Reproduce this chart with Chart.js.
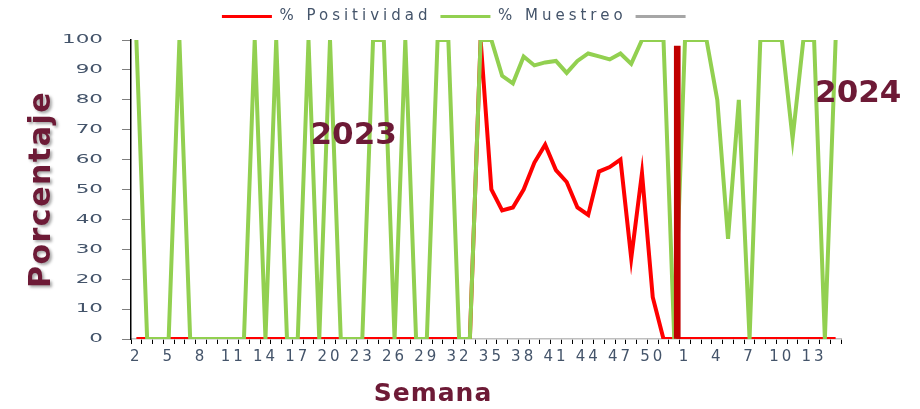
<!DOCTYPE html>
<html>
<head>
<meta charset="utf-8">
<script src="https://cdn.jsdelivr.net/npm/chart.js@4.4.1/dist/chart.umd.min.js"></script>
<style>
html, body { margin: 0; padding: 0; background: #fff; }
#wrap { width: 920px; height: 409px; }
</style>
</head>
<body>
<div id="wrap"><canvas id="semanaChart"></canvas></div>
<script>
// Semanas: 2023 (2-52) y 2024 (1-15)
const weeks = [
    '2', '3', '4', '5', '6', '7', '8', '9', '10', '11', '12', '13', '14', '15', '16', '17', '18',
    '19', '20', '21', '22', '23', '24', '25', '26', '27', '28', '29', '30', '31', '32', '33', '34',
    '35', '36', '37', '38', '39', '40', '41', '42', '43', '44', '45', '46', '47', '48', '49', '50',
    '51', '52',
    '1', '2', '3', '4', '5', '6', '7', '8', '9', '10', '11', '12', '13', '14', '15'
];

const positividad = [
    0, 0, 0, 0, 0, 0, 0, 0, 0, 0, 0, 0, 0, 0, 0, 0,
    0, 0, 0, 0, 0, 0, 0, 0, 0, 0, 0, 0, 0, 0, 0, 0,
    100, 50, 43, 44, 50, 59, 65, 56.5, 52.5, 44, 41.5, 56, 57.5, 60, 27, 55.5, 14, 0, 0,
    0, 0, 0, 0, 0, 0, 0, 0, 0, 0, 0, 0, 0, 0, 0
];

const muestreo = [
    100, 0, 0, 0, 100, 0, 0, 0, 0, 0, 0, 100, 0, 100, 0, 0,
    100, 0, 100, 0, 0, 0, 100, 100, 0, 100, 0, 0, 100, 100, 0, 0,
    100, 100, 88, 85.5, 94.5, 91.5, 92.5, 93, 89, 93, 95.5, 94.5, 93.5, 95.5, 92, 100, 100, 100, 0,
    100, 100, 100, 80, 33.5, 80, 0, 100, 100, 100, 67, 100, 100, 0, 100
];

// Barra que separa 2023 de 2024 (semana 52)
const separador = weeks.map((w, i) => (i === 50 ? 98 : null));
const separadorHueco = weeks.map(() => null);

const yTicks = [0, 10, 20, 30, 40, 50, 60, 70, 80, 90, 100];

const yearLabels = [
    { text: '2023', index: 20.2, value: 68 },
    { text: '2024', index: 67.1, value: 82 }
];

const FONT = "'DejaVu Sans', sans-serif";
const TITLE_COLOR = '#6D1A36';

// Envuelve un método de dibujo para cambiar el estilo del texto
function wrapDraw(obj, name, setup) {
    const original = obj[name];
    obj[name] = function (...args) {
        this.ctx.save();
        setup.call(this, this.ctx);
        const result = original.apply(this, args);
        this.ctx.restore();
        return result;
    };
}

// Textos de año y título del eje X
const textPlugin = {
    id: 'textPlugin',
    afterDatasetsDraw(chart) {
        const { ctx, scales } = chart;
        ctx.save();
        ctx.fillStyle = TITLE_COLOR;
        ctx.font = "bold 31px " + FONT;
        ctx.textAlign = 'center';
        ctx.textBaseline = 'middle';
        yearLabels.forEach(l => {
            ctx.fillText(l.text, scales.x.getPixelForValue(l.index), scales.y.getPixelForValue(l.value));
        });
        ctx.font = "bold 25px " + FONT;
        ctx.letterSpacing = '1px';
        ctx.fillText('Semana', 433, 394);
        ctx.restore();
    }
};

const textStylePlugin = {
    id: 'textStylePlugin',
    beforeInit(chart) {
        const legend = chart.legend;
        const originalFit = legend.fit;
        legend.fit = function () {
            this.ctx.save();
            this.ctx.letterSpacing = '4px';
            originalFit.call(this);
            this.ctx.restore();
            this.height = 40;
        };
        wrapDraw(legend, 'draw', c => {
            c.letterSpacing = '4px';
            c.translate(37, 0);
        });
    },
    beforeDraw(chart) {
        const { x, y } = chart.scales;
        if (!x._styled) {
            wrapDraw(x, 'drawLabels', c => { c.letterSpacing = '3px'; });
            x._styled = true;
        }
        if (!y._styled) {
            // etiquetas del eje Y más anchas, alineadas a la derecha
            wrapDraw(y, 'drawLabels', function (c) {
                const anchor = this.right - this.options.grid.tickLength - this.options.ticks.padding;
                c.translate(anchor, 0);
                c.scale(1.65, 1);
                c.translate(-anchor, 0);
            });
            wrapDraw(y, 'drawTitle', c => {
                c.letterSpacing = '1.5px';
                c.shadowColor = 'rgba(0, 0, 0, 0.35)';
                c.shadowBlur = 3;
                c.shadowOffsetX = 2;
                c.shadowOffsetY = 2;
            });
            y._styled = true;
        }
    }
};

const ctx = document.getElementById('semanaChart').getContext('2d');
new Chart(ctx, {
    type: 'line',
    data: {
        labels: weeks,
        datasets: [{
            label: '% Positividad',
            data: positividad,
            borderColor: '#FF0000',
            backgroundColor: '#FF0000',
            borderWidth: 4,
            pointRadius: 0,
            tension: 0,
            order: 2
        }, {
            label: '% Muestreo',
            data: muestreo,
            borderColor: '#92D050',
            backgroundColor: '#92D050',
            borderWidth: 4,
            pointRadius: 0,
            tension: 0,
            order: 1
        }, {
            label: '',
            data: [],
            borderColor: '#A6A6A6',
            backgroundColor: '#A6A6A6',
            borderWidth: 4,
            pointRadius: 0,
            order: 3
        }, {
            type: 'bar',
            label: 'hueco',
            data: separadorHueco,
            backgroundColor: 'rgba(0,0,0,0)',
            barThickness: 6,
            order: 0
        }, {
            type: 'bar',
            label: 'separador',
            data: separador,
            backgroundColor: '#C00000',
            barThickness: 6,
            order: 0
        }]
    },
    options: {
        responsive: true,
        maintainAspectRatio: false,
        animation: false,
        layout: { padding: { top: 0, right: 79, bottom: 0, left: 0 } },
        plugins: {
            legend: {
                position: 'top',
                labels: {
                    boxWidth: 50,
                    boxHeight: 3,
                    padding: 9,
                    color: '#44546A',
                    font: { family: FONT, size: 15 },
                    filter: item => item.datasetIndex < 3,
                    sort: (a, b) => a.datasetIndex - b.datasetIndex,
                    generateLabels: chart => Chart.defaults.plugins.legend.labels.generateLabels(chart)
                        .map(l => ({ ...l, fillStyle: l.strokeStyle, lineWidth: 0 }))
                }
            },
            tooltip: { enabled: false }
        },
        scales: {
            x: {
                offset: true,
                grid: {
                    offset: true,
                    drawOnChartArea: false,
                    tickLength: 5,
                    color: '#000000'
                },
                border: { color: '#BFBFBF', width: 1.5 },
                ticks: {
                    autoSkip: false,
                    maxRotation: 0,
                    padding: 4,
                    color: '#44546A',
                    font: { family: FONT, size: 15 },
                    callback: function (value, index) {
                        return index % 3 === 0 ? this.getLabelForValue(value) : '';
                    }
                },
                afterFit: scale => { scale.height = 70; }
            },
            y: {
                min: 0,
                max: 100,
                afterBuildTicks: scale => { scale.ticks = yTicks.map(v => ({ value: v })); },
                grid: {
                    drawOnChartArea: false,
                    tickLength: 9,
                    color: '#7F7F7F'
                },
                border: { color: '#000000', width: 1.5 },
                ticks: {
                    padding: 19,
                    color: '#44546A',
                    font: { family: FONT, size: 13 }
                },
                title: {
                    display: true,
                    text: 'Porcentaje',
                    color: TITLE_COLOR,
                    font: { family: FONT, size: 30, weight: 'bold' },
                    padding: { top: 24, bottom: 0 }
                },
                afterFit: scale => { scale.width = 131; }
            }
        }
    },
    plugins: [textPlugin, textStylePlugin]
});
</script>
</body>
</html>
